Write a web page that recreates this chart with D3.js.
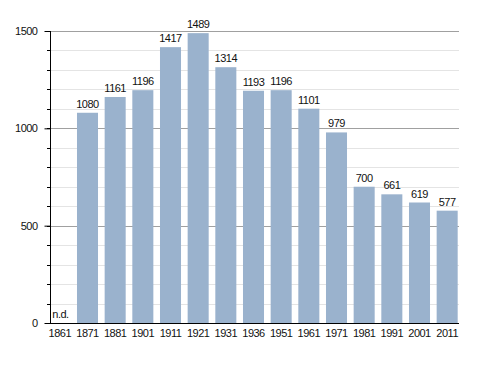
<!DOCTYPE html>
<html>
<head>
<meta charset="utf-8">
<script src="https://cdn.jsdelivr.net/npm/d3@7/dist/d3.min.js"></script>
<style>
  body { margin: 0; background: #fff; }
  text { font-family: "Liberation Sans", Arial, sans-serif; letter-spacing: -0.5px; }
</style>
</head>
<body>
<div id="chart"></div>
<script>
// census years and population
var years = ["1861", "1871", "1881", "1901", "1911", "1921", "1931", "1936", "1951", "1961", "1971", "1981", "1991", "2001", "2011"];
var population = [null, 1080, 1161, 1196, 1417, 1489, 1314, 1193, 1196, 1101, 979, 700, 661, 619, 577];
var majorTicks = [0, 500, 1000, 1500];
var minorTicks = d3.range(0, 1501, 100);

var width = 488, height = 373;
var plotLeft = 50, plotRight = 459, plotTop = 31, plotBottom = 323;

var svg = d3.select("#chart").append("svg")
    .attr("width", width)
    .attr("height", height);

var x = d3.scaleBand()
    .domain(years)
    .range([46, 461])
    .paddingInner(0.24)
    .paddingOuter(0.12);

var y = d3.scaleLinear()
    .domain([0, 1500])
    .range([plotBottom, plotTop]);

// grid lines
svg.selectAll(".minor")
    .data(minorTicks.filter(function(d) { return d % 500 != 0; }))
    .enter().append("line")
    .attr("x1", plotLeft).attr("x2", plotRight)
    .attr("y1", function(d) { return Math.round(y(d)) + 0.5; })
    .attr("y2", function(d) { return Math.round(y(d)) + 0.5; })
    .style("stroke", "#e4e4e4");

svg.selectAll(".major")
    .data(majorTicks.filter(function(d) { return d > 0; }))
    .enter().append("line")
    .attr("x1", plotLeft).attr("x2", plotRight)
    .attr("y1", function(d) { return Math.round(y(d)) + 0.5; })
    .attr("y2", function(d) { return Math.round(y(d)) + 0.5; })
    .style("stroke", "#a0a0a0");

// bars
var bars = years.map(function(d, i) { return { year: d, value: population[i] }; });

svg.selectAll(".bar")
    .data(bars.filter(function(d) { return d.value != null; }))
    .enter().append("rect")
    .attr("x", function(d) { return x(d.year); })
    .attr("width", x.bandwidth())
    .attr("y", function(d) { return y(d.value); })
    .attr("height", function(d) { return y(0) - y(d.value); })
    .attr("fill", "#9ab2cd");

// value labels
svg.selectAll(".lbl")
    .data(bars)
    .enter().append("text")
    .attr("x", function(d) { return d.value == null ? x(d.year) + 3 : x(d.year) + x.bandwidth() / 2; })
    .attr("y", function(d) { return d.value == null ? y(0) - 5 : y(d.value) - 5; })
    .attr("text-anchor", function(d) { return d.value == null ? "start" : "middle"; })
    .style("font-size", "11px")
    .style("fill", "#111")
    .text(function(d) { return d.value == null ? "n.d." : d.value; });

// y axis
var yAxis = d3.axisLeft(y)
    .tickValues(majorTicks)
    .tickFormat(d3.format("d"))
    .tickSize(6)
    .tickPadding(7);

var yG = svg.append("g")
    .attr("transform", "translate(" + (plotLeft + 0.5) + ",0)")
    .call(yAxis);
yG.select(".domain").remove();
yG.selectAll("text").style("font-size", "11px").style("fill", "#111");

svg.append("g")
    .selectAll("line")
    .data(minorTicks)
    .enter().append("line")
    .attr("x1", plotLeft - 3).attr("x2", plotLeft)
    .attr("y1", function(d) { return Math.round(y(d)) + 0.5; })
    .attr("y2", function(d) { return Math.round(y(d)) + 0.5; })
    .style("stroke", "#000");

svg.append("line")
    .attr("x1", plotLeft + 0.5).attr("x2", plotLeft + 0.5)
    .attr("y1", plotTop).attr("y2", plotBottom)
    .style("stroke", "#000");

// x axis
var xAxis = d3.axisBottom(x).tickSize(0).tickPadding(6);
var xG = svg.append("g")
    .attr("transform", "translate(0," + (plotBottom + 0.5) + ")")
    .call(xAxis);
xG.select(".domain").remove();
xG.selectAll("text").style("font-size", "11px").style("fill", "#111");

svg.append("line")
    .attr("x1", 45).attr("x2", plotRight)
    .attr("y1", plotBottom + 0.5).attr("y2", plotBottom + 0.5)
    .style("stroke", "#000");
</script>
</body>
</html>
